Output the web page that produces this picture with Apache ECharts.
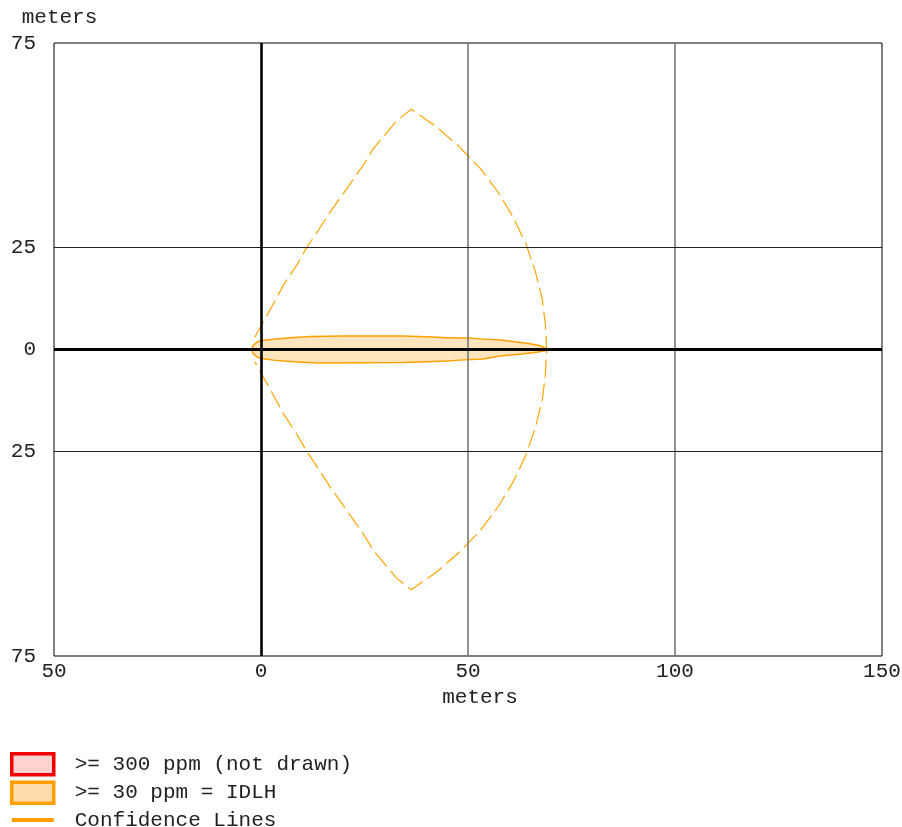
<!DOCTYPE html>
<html>
<head>
<meta charset="utf-8">
<script src="https://cdn.jsdelivr.net/npm/echarts@6/dist/echarts.min.js"></script>
<style>
html,body{margin:0;padding:0;background:#fff;}
#chart{width:902px;height:827px;}
</style>
</head>
<body>
<div id="chart"></div>
<script>
// ---- Data ----
const xTicks = [-50, 0, 50, 100, 150];
const yTicks = [-75, -25, 0, 25, 75];

// Threat zone footprint (>= 30 ppm), outline points (meters)
const plumeX = [-2.2, -1.9, -1.0, 0, 3, 7, 12, 20, 34, 40, 45, 50, 53, 57.7, 61.4, 65, 67.4, 69, 69.2,
                69, 66.6, 63, 57.7, 53.7, 48, 45, 40, 34, 14, 7.5, 3, 0, -1.0, -1.9];
const plumeY = [0, 1.0, 1.8, 2.2, 2.5, 2.9, 3.2, 3.3, 3.3, 3.1, 2.9, 2.8, 2.6, 2.3, 1.9, 1.4, 0.9, 0.2, 0,
                -0.2, -0.65, -1.1, -1.6, -2.3, -2.6, -2.8, -3.0, -3.2, -3.3, -3.0, -2.6, -2.2, -1.8, -1.0];

// Confidence lines (meters)
const confX = [-1.5, 3.0, 5.4, 8.6, 10.6, 16.7, 24.7, 27.1, 32.8, 36.3,
               42.5, 47.9, 52.9, 57.2, 60.9, 64.0, 66.3, 68.0, 68.7, 69.0,
               68.7, 68.0, 66.3, 64.0, 60.9, 57.2, 52.9, 47.9, 42.5, 36.3,
               32.8, 27.1, 24.7, 16.7, 10.6, 8.6, 5.4, 3.0, -1.5];
const confY = [3.0, 11.2, 15.7, 20.6, 24.2, 33.6, 45.1, 49.1, 56.0, 58.8,
               54.4, 49.6, 44.4, 38.6, 32.4, 25.8, 19.0, 12.0, 6.0, 0,
               -6.0, -12.0, -19.0, -25.8, -32.4, -38.6, -44.4, -49.6, -54.4, -58.8,
               -56.0, -49.1, -45.1, -33.6, -24.2, -20.6, -15.7, -11.2, -3.0];

const legendNames = ['>= 300 ppm (not drawn)', '>= 30 ppm = IDLH', 'Confidence Lines'];

// ---- Chart ----
const FONT = '"Liberation Mono", "Courier New", monospace';
const FS = 21;
const plumePts = plumeX.map((x, i) => [x, plumeY[i]]);
const confPts = confX.map((x, i) => [x, confY[i]]);

const chart = echarts.init(document.getElementById('chart'), null, {renderer: 'canvas'});
chart.setOption({
  animation: false,
  backgroundColor: '#fff',
  textStyle: {fontFamily: FONT, color: '#222'},
  grid: {left: 54, right: 20, top: 43, bottom: 171, outerBoundsMode: 'none', containLabel: false,
         show: true, borderColor: '#000', borderWidth: 1, backgroundColor: 'transparent'},
  xAxis: {
    type: 'value', min: -50, max: 150, interval: 50,
    name: 'meters', nameLocation: 'middle', nameGap: 28,
    nameTextStyle: {fontFamily: FONT, fontSize: FS, color: '#222', padding: [0, 0, 0, 24]},
    axisLine: {show: false, onZero: false}, axisTick: {show: false},
    axisLabel: {fontFamily: FONT, fontSize: FS, color: '#222', margin: 5, formatter: v => String(Math.abs(v))},
    splitLine: {show: false}
  },
  yAxis: {
    type: 'value', min: -75, max: 75, interval: 25,
    name: 'meters', nameLocation: 'end', nameGap: 15,
    nameTextStyle: {fontFamily: FONT, fontSize: FS, color: '#222', align: 'center', padding: [0, 0, 0, 11]},
    axisLine: {show: false, onZero: false}, axisTick: {show: false},
    axisLabel: {fontFamily: FONT, fontSize: FS, color: '#222', margin: 18,
      formatter: v => (yTicks.indexOf(v) >= 0 ? String(Math.abs(v)) : '')},
    splitLine: {show: false}
  },
  legend: {
    orient: 'vertical', left: 10, top: 752, height: 90, padding: 0,
    itemWidth: 42, itemHeight: 21, itemGap: 4,
    textStyle: {fontFamily: FONT, fontSize: FS, color: '#222', padding: [0, 0, 0, 16], lineHeight: 22},
    data: [
      {name: legendNames[0], icon: 'rect', itemStyle: {color: '#ffd2d2', borderColor: '#f00000', borderWidth: 3.5}},
      {name: legendNames[1], icon: 'rect', itemStyle: {color: '#ffdcaa', borderColor: '#ffa000', borderWidth: 3.5}},
      {name: legendNames[2], icon: 'path://M0,0 L45,0 L45,4.5 L0,4.5 Z', itemStyle: {color: '#ffa000', borderWidth: 0}}
    ]
  },
  series: [
    {
      type: 'custom', name: legendNames[0], data: [],
      itemStyle: {color: '#ffd2d2'},
      renderItem: () => null
    },
    {
      type: 'custom', name: legendNames[1], z: 2,
      data: [plumePts[0]],
      itemStyle: {color: '#ffdcaa'},
      renderItem: (params, api) => {
        if (params.dataIndex !== 0) return null;
        return {
          type: 'polygon',
          shape: {points: plumePts.map(p => api.coord(p))},
          style: {fill: 'rgba(255,170,40,0.3)', stroke: '#ffa000', lineWidth: 1.5}
        };
      }
    },
    {
      type: 'line', name: 'grid', z: 3, data: [], silent: true,
      markLine: {
        silent: true, symbol: 'none', label: {show: false},
        data: [
          {xAxis: 50, lineStyle: {color: '#777', width: 1.6, type: 'solid'}},
          {xAxis: 100, lineStyle: {color: '#777', width: 1.6, type: 'solid'}},
          {yAxis: 25, lineStyle: {color: '#222', width: 1.2, type: 'solid'}},
          {yAxis: -25, lineStyle: {color: '#222', width: 1.2, type: 'solid'}},
          {yAxis: 0, lineStyle: {color: '#000', width: 3, type: 'solid'}},
          {xAxis: 0, lineStyle: {color: '#000', width: 2.6, type: 'solid'}}
        ]
      }
    },
    {
      type: 'line', name: legendNames[2], z: 4,
      data: confPts, showSymbol: false, symbol: 'none',
      itemStyle: {color: '#ffa000'},
      lineStyle: {color: '#ffa500', width: 1.2, type: [18, 6]}
    }
  ]
});
</script>
</body>
</html>
